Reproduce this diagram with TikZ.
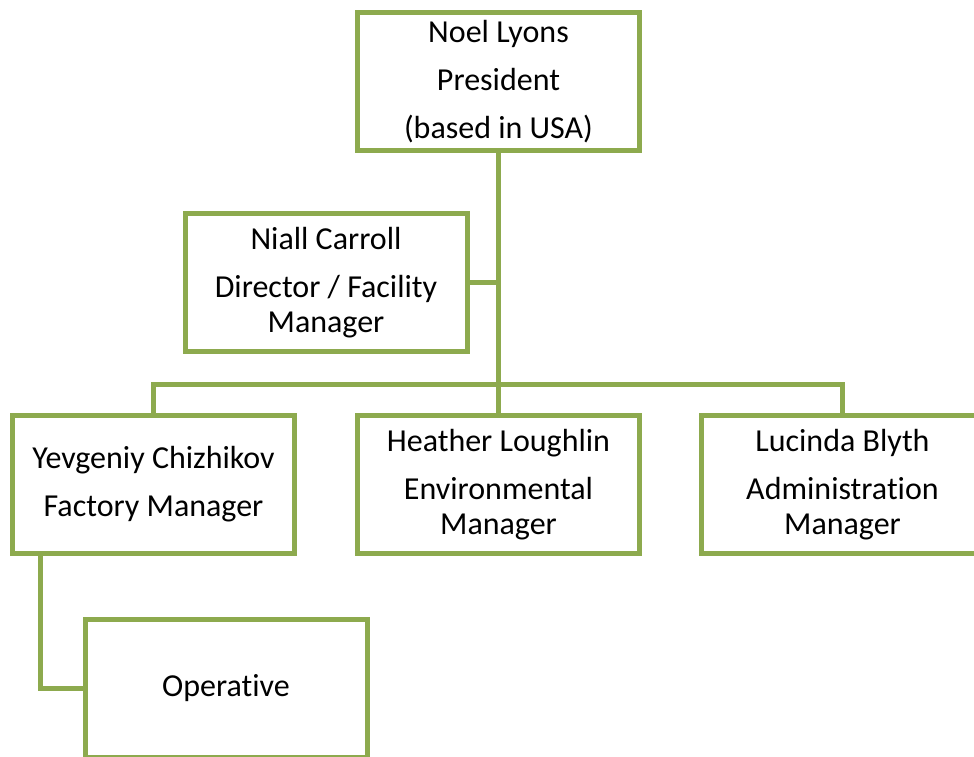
\documentclass[tikz,border=0pt]{standalone}
\usepackage{fontspec}
\setmainfont[RawFeature={-liga;-clig;-calt;-dlig;-rlig}]{Carlito}
\usepackage{tikz}
\usetikzlibrary{positioning}
\definecolor{olive}{RGB}{141,170,78}
\tikzset{
    block/.style={
        draw = olive, line width = 5pt,
        fill = white,
        minimum width = 282pt,
        minimum height = 138pt,
        outer sep = 0pt,
        align = center,
        font = \fontsize{32}{35}\selectfont
    },
    line/.style = {draw = olive, line width = 5pt}
}

\begin{document}
\begin{tikzpicture}
    \useasboundingbox (0,0) rectangle (974pt,-757pt);
    \clip (0,0) rectangle (974pt,-757pt);

    % Blocks
    \node[block] (pres) at (498.5pt,-81.5pt) {Noel Lyons\\[13pt]President\\[13pt](based in USA)};
    \node[block, below = 63pt of pres, xshift = -172.5pt] (niall) {Niall Carroll\\[13pt]Director / Facility\\Manager};
    \node[block, below = 265pt of pres] (heather) {Heather Loughlin\\[13pt]Environmental\\Manager};
    \node[block, left = 63pt of heather] (yev) {Yevgeniy Chizhikov\\[13pt]Factory Manager};
    \node[block, right = 62pt of heather] (lucinda) {Lucinda Blyth\\[13pt]Administration\\Manager};
    \node[block, below = 66pt of yev, xshift = 72.5pt] (oper) {Operative};

    % Lines
    \draw[line] (pres) -- (heather);
    \draw[line] (niall.east) -- (niall.east -| pres.south);
    \draw[line] (yev.north) -- ++(0,31.5pt) -| (lucinda.north);
    \draw[line] ([xshift=27.5pt]yev.south west) |- (oper.west);

\end{tikzpicture}
\end{document}
